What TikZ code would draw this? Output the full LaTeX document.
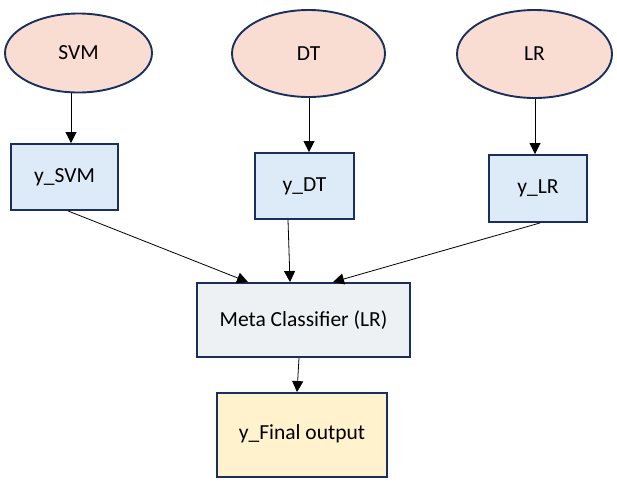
\documentclass[tikz,border=0pt]{standalone}
\usepackage{fontspec}
\setmainfont{Carlito}
\usetikzlibrary{shapes.geometric,arrows.meta}
\definecolor{navy}{HTML}{1B2F5E}
\definecolor{pinkfill}{HTML}{F9DDD3}
\definecolor{bluefill}{HTML}{DDEBF8}
\definecolor{greyfill}{HTML}{EEF1F3}
\definecolor{yellowfill}{HTML}{FFF2CC}
\tikzset{
  txt/.style={font=\fontsize{21.5}{25}\selectfont},
  model/.style={ellipse, draw=navy, line width=1.9pt, fill=pinkfill, inner sep=0pt, txt},
  predbox/.style={rectangle, draw=navy, line width=1.9pt, fill=bluefill, inner sep=0pt, txt},
  metabox/.style={rectangle, draw=navy, line width=1.9pt, fill=greyfill, inner sep=0pt, txt},
  finalbox/.style={rectangle, draw=navy, line width=1.9pt, fill=yellowfill, inner sep=0pt, txt},
  arr/.style={-{Triangle[length=11pt,width=11pt]}, line width=0.8pt, black}
}
\begin{document}
\begin{tikzpicture}[x=1pt,y=-1pt]
\useasboundingbox (0,0) rectangle (617,483);
\node[model, minimum width=147pt, minimum height=79pt] (svm) at (78.5,53) {\raisebox{-6pt}{SVM}};
\node[model, minimum width=153pt, minimum height=87pt] (dt) at (308.5,53.5) {\raisebox{-4pt}{DT}};
\node[model, minimum width=155pt, minimum height=88pt] (lr) at (534.5,54) {\raisebox{-2pt}{LR}};
\node[predbox, minimum width=107pt, minimum height=66pt] (ysvm) at (64.5,177) {y\_SVM};
\node[predbox, minimum width=99pt, minimum height=66pt] (ydt) at (304.5,186) {y\_DT};
\node[predbox, minimum width=98pt, minimum height=67pt] (ylr) at (538,188.5) {y\_LR};
\node[metabox, minimum width=213pt, minimum height=74pt] (meta) at (303.5,320) {Meta Classifier (LR)};
\node[finalbox, minimum width=170pt, minimum height=84pt] (final) at (302,435) {\raisebox{5pt}{y\_Final output}};
\draw[arr] ([xshift=-7.5pt]svm.south) -- ([xshift=6.5pt]ysvm.north);
\draw[arr] ([xshift=0.5pt]dt.south) -- ([xshift=4.5pt]ydt.north);
\draw[arr] ([xshift=0.5pt]lr.south) -- ([xshift=-3pt]ylr.north);
\draw[arr] ([xshift=3.5pt]ysvm.south) -- ([xshift=-55.5pt]meta.north);
\draw[arr] ([xshift=-16.5pt]ydt.south) -- ([xshift=-13.5pt]meta.north);
\draw[arr] ([xshift=2pt]ylr.south) -- ([xshift=29.5pt]meta.north);
\draw[arr] ([xshift=-4.5pt]meta.south) -- ([xshift=-5pt]final.north);
\end{tikzpicture}
\end{document}
